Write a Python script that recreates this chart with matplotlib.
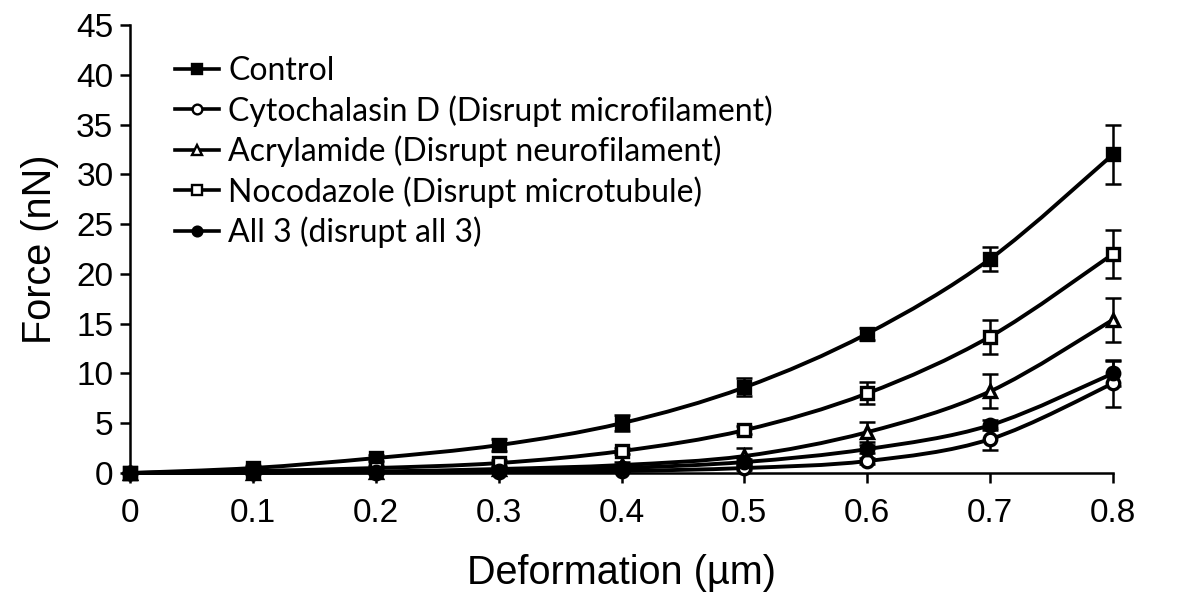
import matplotlib
matplotlib.use('Agg')
import matplotlib.pyplot as plt
from matplotlib.path import Path
from matplotlib.patches import PathPatch
import numpy as np

deformation = [0, 0.1, 0.2, 0.3, 0.4, 0.5, 0.6, 0.7, 0.8]

control = [0, 0.5, 1.5, 2.8, 5.0, 8.6, 14.0, 21.5, 32.0]
control_err = [0, 0.2, 0.3, 0.6, 0.8, 0.9, 0.6, 1.2, 3.0]

cytochalasin = [0, 0.02, 0.05, 0.1, 0.2, 0.5, 1.2, 3.4, 9.0]
cytochalasin_err = [0, 0, 0, 0, 0.1, 0.2, 0.3, 1.1, 2.4]

acrylamide = [0, 0.05, 0.15, 0.4, 0.8, 1.7, 4.1, 8.2, 15.4]
acrylamide_err = [0, 0, 0.1, 0.2, 0.3, 0.8, 1.0, 1.7, 2.2]

nocodazole = [0, 0.2, 0.5, 1.0, 2.2, 4.3, 8.0, 13.7, 22.0]
nocodazole_err = [0, 0.1, 0.2, 0.3, 0.3, 0.4, 1.1, 1.7, 2.4]

all3 = [0, 0.05, 0.1, 0.2, 0.5, 1.1, 2.4, 4.8, 10.0]
all3_err = [0, 0, 0, 0.1, 0.2, 0.3, 0.4, 0.5, 1.3]

labels = ['Control',
          'Cytochalasin D (Disrupt microfilament)',
          'Acrylamide (Disrupt neurofilament)',
          'Nocodazole (Disrupt microtubule)',
          'All 3 (disrupt all 3)']


def smooth_path(x, y, t=1.0 / 6):
    # Excel-style smoothed line: cubic bezier segments through the points
    x = np.asarray(x, float)
    y = np.asarray(y, float)
    n = len(x)
    verts = [(x[0], y[0])]
    codes = [Path.MOVETO]
    for i in range(n - 1):
        i0 = max(i - 1, 0)
        i3 = min(i + 2, n - 1)
        c1 = (x[i] + (x[i + 1] - x[i0]) * t, y[i] + (y[i + 1] - y[i0]) * t)
        c2 = (x[i + 1] - (x[i3] - x[i]) * t, y[i + 1] - (y[i3] - y[i]) * t)
        verts += [c1, c2, (x[i + 1], y[i + 1])]
        codes += [Path.CURVE4] * 3
    return Path(verts, codes)


fig = plt.figure(figsize=(12, 6.02), dpi=100)
ax = fig.add_axes([130 / 1200, 1 - 473 / 602, (1113 - 130) / 1200, (473 - 25) / 602])

series = [
    (control, control_err, dict(marker='s', mfc='black'), labels[0]),
    (cytochalasin, cytochalasin_err, dict(marker='o', mfc='white'), labels[1]),
    (acrylamide, acrylamide_err, dict(marker='^', mfc='white'), labels[2]),
    (nocodazole, nocodazole_err, dict(marker='s', mfc='white'), labels[3]),
    (all3, all3_err, dict(marker='o', mfc='black'), labels[4]),
]

handles = []
for vals, err, mk, lab in series:
    ax.add_patch(PathPatch(smooth_path(deformation, vals), fill=False,
                           lw=2.8, ec='black', zorder=2, clip_on=False))
    ax.errorbar(deformation, vals, yerr=err, fmt='none', ecolor='black',
                elinewidth=1.8, capsize=6, capthick=1.8, zorder=3,
                clip_on=False)
    ax.plot(deformation, vals, ls='none', mec='black', mew=2.4,
            ms=9 if mk['marker'] != '^' else 8, zorder=4, clip_on=False, **mk)
    h, = ax.plot([], [], color='black', lw=2.6, mec='black', mew=1.7,
                 ms=7, **mk)
    handles.append(h)

ax.set_xlim(0, 0.8)
ax.set_ylim(0, 45)
ax.set_xticks(deformation)
ax.set_xticklabels(['0', '0.1', '0.2', '0.3', '0.4', '0.5', '0.6', '0.7', '0.8'])
ax.set_yticks(range(0, 46, 5))
for s in ['top', 'right']:
    ax.spines[s].set_visible(False)
for s in ['left', 'bottom']:
    ax.spines[s].set_linewidth(1.8)
ax.tick_params(direction='out', length=7, width=1.8, labelsize=24)
ax.tick_params(axis='x', pad=11)
ax.tick_params(axis='y', pad=5)
for lbl in ax.get_xticklabels() + ax.get_yticklabels():
    lbl.set_family('Liberation Sans')
ax.set_xlabel('Deformation (µm)', fontsize=28.5, family='Liberation Sans',
              labelpad=18)
ax.set_ylabel('Force (nN)', fontsize=28.5, family='Liberation Sans',
              labelpad=12)

leg = ax.legend(handles, labels, loc='upper left', bbox_to_anchor=(0.017, 0.995),
                frameon=False, handlelength=1.35, handletextpad=0.3,
                labelspacing=0.28, prop={'family': 'Lato', 'size': 23})

fig.savefig('out.png', dpi=100)
